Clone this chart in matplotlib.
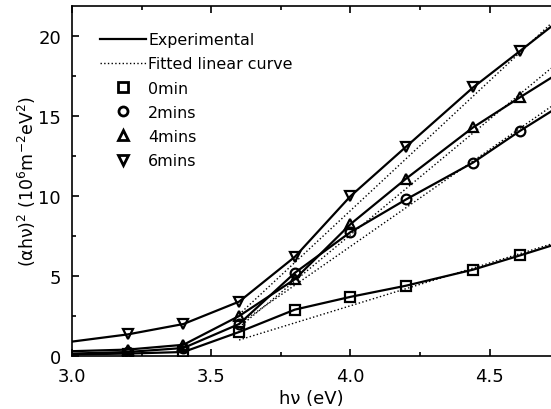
import numpy as np
import matplotlib.pyplot as plt

plt.rcParams['font.family'] = ['DejaVu Sans']
plt.rcParams['mathtext.fontset'] = 'dejavusans'

# photon energy (eV) at the measured points, last value is the right edge
hv = [3.0, 3.2, 3.4, 3.6, 3.8, 4.0, 4.2, 4.44, 4.61, 4.72]

# (alpha h nu)^2 in 10^6 m^-2 eV^2
y_0min = [0.1, 0.15, 0.25, 1.5, 2.9, 3.7, 4.4, 5.4, 6.3, 6.9]
y_2min = [0.15, 0.25, 0.5, 2.0, 5.2, 7.75, 9.8, 12.1, 14.1, 15.3]
y_4min = [0.3, 0.4, 0.7, 2.5, 4.8, 8.25, 11.1, 14.3, 16.2, 17.4]
y_6min = [0.9, 1.35, 2.0, 3.4, 6.2, 10.0, 13.1, 16.8, 19.1, 20.6]

# fitted linear curves: (x start, x end), (y start, y end)
fit_x = [3.6, 4.72]
fit_0min = [1.0, 7.0]
fit_2min = [2.0, 15.6]
fit_4min = [1.8, 18.0]
fit_6min = [2.6, 20.8]

labels = ['0min', '2mins', '4mins', '6mins']
markers = ['s', 'o', '^', 'v']
curves = [y_0min, y_2min, y_4min, y_6min]
fits = [fit_0min, fit_2min, fit_4min, fit_6min]

fig = plt.figure(figsize=(5.51, 4.10), dpi=100)
ax = fig.add_axes([0.1307, 0.1293, 0.8693, 0.8537])

for ys, fy, m in zip(curves, fits, markers):
    ax.plot(hv, ys, '-', color='black', lw=1.6)
    ax.plot(hv[1:-1], ys[1:-1], ls='none', marker=m, ms=7, mew=1.6,
            mfc='none', mec='black')
    ax.plot(fit_x, fy, ':', color='black', lw=1.0)

# legend handles
h_exp, = ax.plot([], [], '-', color='black', lw=1.6)
h_fit, = ax.plot([], [], ':', color='black', lw=1.0)
h_m = [ax.plot([], [], ls='none', marker=m, ms=6.5, mew=2.0, mfc='none',
               mec='black')[0] for m in markers]
ax.legend([h_exp, h_fit] + h_m, ['Experimental', 'Fitted linear curve'] + labels,
          loc='upper left', bbox_to_anchor=(0.058, 0.925), frameon=False,
          fontsize=11.4, handlelength=2.9, handletextpad=0.15,
          labelspacing=0.58, borderaxespad=0, borderpad=0)

ax.set_xlim(3.0, 4.72)
ax.set_ylim(0, 21.9)
ax.set_xticks([3.0, 3.5, 4.0, 4.5])
ax.set_xticklabels(['3.0', '3.5', '4.0', '4.5'])
ax.set_xticks([3.25, 3.75, 4.25], minor=True)
ax.set_yticks([0, 5, 10, 15, 20])
ax.set_yticks([2.5, 7.5, 12.5, 17.5], minor=True)
ax.tick_params(which='both', direction='in', top=True, right=False,
               labelsize=13, width=1.2)
ax.tick_params(which='major', length=5)
ax.tick_params(which='minor', length=3)
ax.tick_params(axis='x', pad=8)
ax.tick_params(axis='y', pad=8)
ax.spines['right'].set_visible(False)
for s in ['left', 'bottom', 'top']:
    ax.spines[s].set_linewidth(1.2)

ax.set_xlabel('h\u03bd (eV)', fontsize=13, labelpad=3)
ax.set_ylabel('(\u03b1h\u03bd)$^2$ (10$^6$m$^{-2}$eV$^2$)', fontsize=12.5)
ax.yaxis.set_label_coords(-0.071, 0.5)

fig.savefig('out.png', dpi=100)
